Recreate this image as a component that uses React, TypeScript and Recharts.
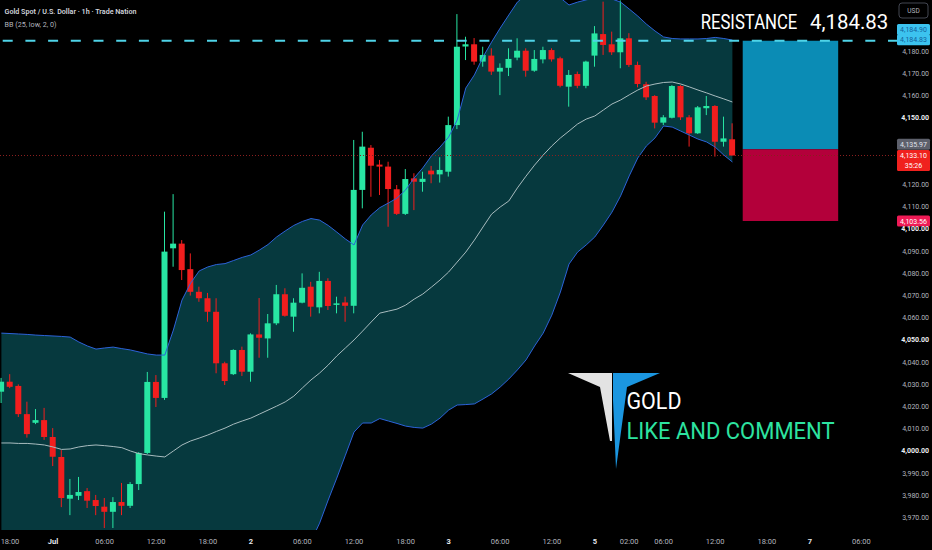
import { ComposedChart, Area, Line, Bar, XAxis, YAxis, ReferenceLine, ReferenceArea } from 'recharts';

// hourly candles, slot -1 .. 84 (weekend gaps collapsed like the source chart)
const FIRST_SLOT = -1;

const opens = [
  4026.7, 4031.2, 4029.3, 4016.6, 4012.7, 4013.9, 4006.3, 3997.3, 3978.5, 3979.8,
  3981.9, 3977.9, 3974.9, 3972.6, 3977.0, 3975.3, 3985.1, 3999.1, 4031.1, 4023.9,
  4091.3, 4093.4, 4081.9, 4071.7, 4068.8, 4062.7, 4039.5, 4034.6, 4045.5, 4035.7,
  4052.5, 4050.7, 4057.5, 4070.6, 4060.5, 4066.8, 4074.0, 4064.7, 4076.6, 4065.8,
  4066.9, 4065.4, 4117.6, 4136.6, 4129.0, 4128.1, 4117.9, 4106.8, 4122.8, 4121.2,
  4126.3, 4124.6, 4125.8, 4146.8, 4182.2, 4183.2, 4175.4, 4178.1, 4170.9, 4172.6,
  4177.2, 4180.3, 4171.3, 4176.4, 4180.6, 4176.9, 4164.1, 4169.8, 4164.5, 4178.1,
  4187.8, 4183.2, 4179.6, 4185.9, 4173.9, 4165.2, 4159.9, 4147.9, 4150.1, 4164.4,
  4150.3, 4143.1, 4154.4, 4155.4, 4139.3, 4140.4,
];
const highs = [
  4032.9, 4034.6, 4030.0, 4022.2, 4018.9, 4019.4, 4010.3, 4000.4, 3987.4, 3988.3,
  3983.3, 3980.2, 3978.8, 3979.2, 3985.6, 3986.0, 3999.5, 4035.6, 4034.2, 4107.8,
  4115.7, 4095.0, 4089.0, 4074.0, 4071.2, 4068.8, 4040.2, 4045.8, 4047.0, 4053.0,
  4068.9, 4061.7, 4074.8, 4073.3, 4068.8, 4080.0, 4076.2, 4080.7, 4077.8, 4069.5,
  4069.5, 4140.1, 4143.8, 4137.8, 4131.1, 4130.3, 4119.8, 4127.0, 4125.1, 4125.8,
  4128.4, 4132.3, 4150.6, 4196.8, 4186.6, 4186.0, 4182.1, 4181.4, 4174.6, 4181.4,
  4185.9, 4181.4, 4180.6, 4182.1, 4181.4, 4177.6, 4171.6, 4170.9, 4175.8, 4191.4,
  4202.4, 4188.9, 4203.0, 4188.2, 4175.4, 4166.3, 4160.3, 4151.3, 4164.8, 4164.8,
  4151.3, 4155.4, 4159.9, 4155.8, 4150.6, 4147.6,
];
const lows = [
  4021.6, 4028.3, 4015.3, 4006.0, 4012.1, 4005.0, 3993.2, 3974.7, 3971.1, 3977.9,
  3974.3, 3971.1, 3965.3, 3965.3, 3971.1, 3974.3, 3982.4, 3998.6, 4019.8, 4023.0,
  4083.0, 4077.0, 4070.0, 4067.2, 4058.2, 4035.0, 4029.7, 4034.2, 4033.8, 4031.2,
  4042.0, 4042.0, 4056.7, 4060.5, 4053.7, 4066.5, 4060.5, 4062.0, 4063.5, 4062.0,
  4058.2, 4062.0, 4109.3, 4114.5, 4115.3, 4101.0, 4106.3, 4106.3, 4108.5, 4116.8,
  4120.6, 4120.9, 4123.6, 4145.0, 4176.1, 4174.0, 4173.1, 4169.4, 4160.3, 4168.9,
  4176.0, 4168.6, 4170.8, 4174.6, 4175.4, 4163.8, 4155.1, 4163.4, 4163.4, 4173.1,
  4178.4, 4178.4, 4172.4, 4173.0, 4163.8, 4158.1, 4145.3, 4146.8, 4149.8, 4149.1,
  4137.1, 4142.8, 4151.3, 4132.6, 4137.1, 4133.0,
];
const closes = [
  4031.2, 4028.9, 4016.6, 4007.6, 4013.9, 4006.3, 3997.4, 3978.8, 3980.2, 3981.5,
  3977.6, 3975.2, 3972.6, 3977.0, 3975.3, 3985.1, 3999.1, 4031.1, 4023.9, 4089.8,
  4093.4, 4081.5, 4071.7, 4068.8, 4062.7, 4039.5, 4031.5, 4045.5, 4035.7, 4052.5,
  4051.0, 4057.5, 4070.6, 4060.9, 4066.8, 4073.5, 4065.0, 4076.6, 4065.3, 4066.5,
  4065.4, 4117.6, 4137.1, 4128.5, 4128.1, 4118.0, 4106.8, 4122.5, 4121.3, 4122.6,
  4124.6, 4126.6, 4146.8, 4182.1, 4183.2, 4175.4, 4178.4, 4170.9, 4172.6, 4176.6,
  4180.3, 4171.3, 4176.6, 4180.6, 4176.4, 4164.5, 4169.4, 4164.5, 4175.4, 4188.1,
  4182.9, 4179.6, 4185.9, 4173.9, 4165.3, 4159.3, 4147.9, 4150.3, 4164.4, 4150.3,
  4143.1, 4154.8, 4155.4, 4139.3, 4140.8, 4133.1,
];

// Bollinger Bands (25, low, 2)
const bbUpper = [
  4053.1, 4052.9, 4052.7, 4052.5, 4052.2, 4052.0, 4051.8, 4051.6, 4051.3, 4049.1,
  4047.3, 4045.9, 4046.4, 4046.8, 4046.1, 4045.5, 4044.6, 4043.7, 4043.2, 4043.2,
  4054.5, 4068.0, 4075.6, 4081.1, 4082.9, 4084.0, 4084.4, 4085.8, 4087.2, 4088.3,
  4090.5, 4093.0, 4096.4, 4099.1, 4101.6, 4103.4, 4104.7, 4104.0, 4101.6, 4098.6,
  4095.5, 4092.8, 4101.8, 4106.3, 4109.6, 4111.7, 4113.9, 4117.6, 4123.0, 4127.5,
  4132.9, 4136.9, 4141.4, 4149.1, 4163.5, 4169.4, 4177.5, 4184.2, 4190.5, 4196.4,
  4202.2, 4205.4, 4206.8, 4206.8, 4205.9, 4204.1, 4200.9, 4202.2, 4203.2, 4204.1,
  4204.5, 4203.6, 4202.2, 4199.1, 4195.9, 4192.3, 4189.2, 4186.5, 4185.8, 4185.6,
  4185.6, 4185.6, 4185.8, 4186.3, 4185.8, 4185.1,
];
const bbMid = [
  4003.6, 4003.6, 4003.4, 4003.4, 4003.1, 4002.7, 4001.8, 4000.7, 4000.9, 4001.8,
  4002.4, 4002.7, 4002.4, 4002.0, 4001.5, 4000.0, 3998.8, 3998.2, 3997.7, 3997.3,
  4000.0, 4002.7, 4004.5, 4005.8, 4007.2, 4008.8, 4010.3, 4012.1, 4013.5, 4014.8,
  4016.6, 4018.4, 4020.2, 4022.1, 4024.7, 4028.4, 4032.0, 4035.1, 4038.7, 4042.8,
  4046.4, 4050.0, 4054.0, 4058.1, 4062.1, 4063.0, 4063.9, 4065.7, 4068.4, 4070.7,
  4073.8, 4077.0, 4080.6, 4085.1, 4089.6, 4095.0, 4100.9, 4106.7, 4109.9, 4112.6,
  4118.5, 4123.8, 4128.8, 4133.3, 4137.4, 4141.0, 4144.1, 4147.3, 4149.5, 4150.9,
  4153.6, 4156.3, 4158.1, 4160.4, 4162.6, 4164.4, 4165.3, 4166.0, 4166.2, 4165.3,
  4164.0, 4162.6, 4161.3, 4159.9, 4158.6, 4157.2,
];
const bbLower = [
  3954.1, 3954.3, 3954.1, 3954.3, 3954.0, 3953.4, 3951.8, 3949.8, 3950.5, 3954.5,
  3957.5, 3959.5, 3958.4, 3957.2, 3956.9, 3954.5, 3953.0, 3952.7, 3952.2, 3951.4,
  3945.5, 3937.4, 3933.4, 3930.5, 3931.5, 3933.6, 3936.2, 3938.4, 3939.8, 3941.3,
  3942.7, 3943.8, 3944.0, 3945.1, 3947.8, 3953.4, 3959.3, 3967.5, 3977.9, 3987.8,
  3998.1, 4008.5, 4012.6, 4012.6, 4014.6, 4013.5, 4012.4, 4011.2, 4010.6, 4010.3,
  4012.1, 4014.8, 4018.4, 4020.7, 4020.9, 4021.2, 4023.4, 4025.7, 4028.8, 4032.4,
  4036.5, 4041.0, 4047.3, 4053.1, 4061.2, 4071.6, 4084.2, 4089.6, 4092.8, 4096.4,
  4101.8, 4107.6, 4114.9, 4123.9, 4132.0, 4137.4, 4141.0, 4146.4, 4145.9, 4144.1,
  4142.3, 4140.5, 4139.2, 4136.9, 4133.3, 4130.2,
];

const timeTicks = [0, 5, 11, 17, 23, 28, 34, 40, 46, 51, 57, 63, 68, 72, 76, 82, 88, 93, 99];
const timeLabels = ['18:00', 'Jul', '06:00', '12:00', '18:00', '2', '06:00', '12:00', '18:00', '3', '06:00', '12:00', '5', '02:00', '06:00', '12:00', '18:00', '7', '06:00'];
const dayLabels = ['Jul', '2', '3', '5', '7'];

const priceTicks = [3970, 3980, 3990, 4000, 4010, 4020, 4030, 4040, 4050, 4060, 4070, 4080, 4090, 4100, 4110, 4120, 4150, 4160, 4170, 4180];

const RESISTANCE = 4184.83;
const PREV_HIGH = 4184.9;
const ENTRY = 4135.97;
const LAST = 4133.1;
const TARGET = 4103.56;
const COUNTDOWN = '35:26';
const boxSlots = [85.2, 96.3];

const GREEN = '#28e6a3';
const RED = '#f21e1e';
const FONT = 'Roboto, "Noto Sans", sans-serif';

const rows = opens.map((open, k) => ({
  slot: FIRST_SLOT + k,
  open,
  high: highs[k],
  low: lows[k],
  close: closes[k],
  upper: bbUpper[k],
  mid: bbMid[k],
  lower: bbLower[k],
}));

const fmt = (v: number) => v.toLocaleString('en-US', { minimumFractionDigits: 2, maximumFractionDigits: 2 });

const Candle = (props: any) => {
  const { x, y, width, height, payload } = props;
  if (!payload) return null;
  const { open, close, high, low } = payload;
  const color = close >= open ? GREEN : RED;
  const span = high - low || 1;
  const py = (p: number) => y + ((high - p) / span) * height;
  const cx = x + width / 2;
  const top = py(Math.max(open, close));
  const bot = py(Math.min(open, close));
  return (
    <g>
      <line x1={cx} x2={cx} y1={y} y2={y + height} stroke={color} strokeWidth={1} />
      <rect x={x} y={top} width={width} height={Math.max(bot - top, 1.2)} fill={color} />
    </g>
  );
};

const TimeTick = ({ x, payload }: any) => {
  const label = timeLabels[timeTicks.indexOf(payload.value)] ?? '';
  const day = dayLabels.includes(label);
  return (
    <text x={x} y={544} textAnchor="middle" fontSize={7.5} fontFamily={FONT}
      fontWeight={day ? 700 : 400} fill={day ? '#e6e8ee' : '#b2b5be'}>
      {label}
    </text>
  );
};

const PriceTick = ({ y, payload }: any) => {
  const v = payload.value;
  const major = v % 50 === 0;
  return (
    <text x={929} y={y} dy={2.5} textAnchor="end" fontSize={7} fontFamily={FONT}
      fontWeight={major ? 700 : 400} fill={major ? '#eceef2' : '#b2b5be'}>
      {fmt(v)}
    </text>
  );
};

const tag = (text: string, bg: string, fg: string, shift: number, sub?: string) => (props: any) => {
  const vb = props.viewBox;
  if (!vb) return null;
  const left = vb.x + vb.width - 1;
  const cy = vb.y + shift;
  const h = sub ? 21 : 11;
  return (
    <g>
      <rect x={left} y={cy - 5.5} width={33} height={h} fill={bg} rx={1.5} />
      <text x={left + 16.5} y={cy} dy={2.5} textAnchor="middle" fontSize={7} fontFamily={FONT} fill={fg}>{text}</text>
      {sub && (
        <text x={left + 16.5} y={cy + 10} dy={2.5} textAnchor="middle" fontSize={7} fontFamily={FONT} fill={fg}>{sub}</text>
      )}
    </g>
  );
};

export default function App() {
  return (
    <div style={{ position: 'absolute', left: 0, top: 0, width: 932, height: 550, background: '#000', overflow: 'hidden' }}>
      <ComposedChart width={932} height={550} data={rows} margin={{ top: 0, right: 0, bottom: 0, left: 0 }}>
        <XAxis dataKey="slot" type="number" domain={[-1.163, 103.256]} allowDataOverflow ticks={timeTicks}
          interval={0} height={20} axisLine={false} tickLine={false} tick={<TimeTick />} />
        <YAxis orientation="right" type="number" domain={[3964.4, 4203.15]} allowDataOverflow ticks={priceTicks}
          interval={0} width={34} axisLine={false} tickLine={false} tick={<PriceTick />} />

        <Area dataKey={(d: any) => [d.lower, d.upper]} type="linear" fill="#06393e" fillOpacity={1}
          stroke="none" dot={false} activeDot={false} isAnimationActive={false} />
        <Line dataKey="upper" type="linear" stroke="#2c63d9" strokeWidth={1} dot={false} activeDot={false} isAnimationActive={false} />
        <Line dataKey="lower" type="linear" stroke="#2c63d9" strokeWidth={1} dot={false} activeDot={false} isAnimationActive={false} />
        <Line dataKey="mid" type="linear" stroke="#a8bcbf" strokeWidth={1} dot={false} activeDot={false} isAnimationActive={false} />

        <ReferenceLine y={LAST} stroke="#8a1f1f" strokeDasharray="1 2" strokeWidth={1} />
        <ReferenceLine y={RESISTANCE} stroke="#4fd3e8" strokeWidth={2} strokeDasharray="10 12.7" />

        <Bar dataKey={(d: any) => [d.low, d.high]} barSize={6} shape={<Candle />} activeBar={false} isAnimationActive={false} />

        <ReferenceArea x1={boxSlots[0]} x2={boxSlots[1]} y1={ENTRY} y2={RESISTANCE} fill="#0b8cb5" fillOpacity={1} stroke="none" />
        <ReferenceArea x1={boxSlots[0]} x2={boxSlots[1]} y1={TARGET} y2={ENTRY} fill="#b3003a" fillOpacity={1} stroke="none" />

        <ReferenceLine y={PREV_HIGH} stroke="none" label={tag(fmt(PREV_HIGH), '#3cc3ef', '#135f9c', -11)} />
        <ReferenceLine y={RESISTANCE} stroke="none" label={tag(fmt(RESISTANCE), '#3cc3ef', '#135f9c', -1)} />
        <ReferenceLine y={ENTRY} stroke="none" label={tag(fmt(ENTRY), '#5d606b', '#e0e3eb', -5)} />
        <ReferenceLine y={LAST} stroke="none" label={tag(fmt(LAST), '#f0211e', '#ffffff', 0, COUNTDOWN)} />
        <ReferenceLine y={TARGET} stroke="none" label={tag(fmt(TARGET), '#ee1a55', '#ffffff', 0)} />
      </ComposedChart>

      <svg width={932} height={550} style={{ position: 'absolute', left: 0, top: 0, pointerEvents: 'none' }}>
        <text x={4.5} y={14} fontSize={7.5} fontWeight={600} fontFamily={FONT} fill="#d1d4dc" textLength={132} lengthAdjust="spacingAndGlyphs">
          Gold Spot / U.S. Dollar · 1h · Trade Nation
        </text>
        <text x={4.5} y={27} fontSize={7.5} fontFamily={FONT} fill="#b2b5be" textLength={52} lengthAdjust="spacingAndGlyphs">
          BB (25, low, 2, 0)
        </text>

        <text x={700.7} y={29.3} fontSize={20} fontFamily={FONT} fill="#ffffff" textLength={96.6} lengthAdjust="spacingAndGlyphs">
          RESISTANCE
        </text>
        <text x={810} y={29.3} fontSize={20} fontFamily={FONT} fill="#ffffff" textLength={78.3} lengthAdjust="spacingAndGlyphs">
          {fmt(RESISTANCE)}
        </text>

        <rect x={899} y={3} width={29} height={15} rx={3} fill="#000" stroke="#434651" strokeWidth={1} />
        <text x={913.5} y={13} textAnchor="middle" fontSize={6.5} fontFamily={FONT} fill="#b2b5be">USD</text>

        <polygon points="568,373 612,373 612,441 610,441 600,387" fill="#e3e3e3" />
        <polygon points="613,373 660,373 627,387 616,469 613,400" fill="#1b96e0" />
        <text x={626.5} y={409.3} fontSize={24} fontFamily={FONT} fill="#ffffff" textLength={55} lengthAdjust="spacingAndGlyphs">
          GOLD
        </text>
        <text x={626.5} y={438.5} fontSize={24} fontFamily={FONT} fill="#2de3a0" textLength={208} lengthAdjust="spacingAndGlyphs">
          LIKE AND COMMENT
        </text>
      </svg>
    </div>
  );
}
